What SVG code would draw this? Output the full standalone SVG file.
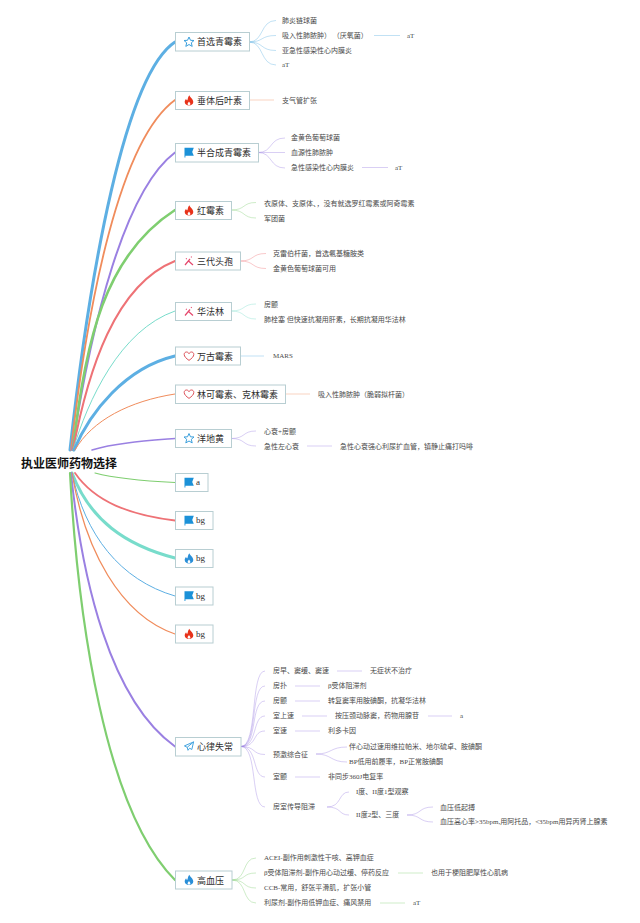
<svg xmlns="http://www.w3.org/2000/svg" width="640" height="923" viewBox="0 0 640 923">
<style>
text{font-family:"Liberation Serif","Noto Sans CJK SC",sans-serif;dominant-baseline:central}
.root{font-family:"Noto Sans CJK SC",sans-serif;font-size:12px;font-weight:700;fill:#111}
.t{font-size:9px;fill:#2e2e2e}
.s{font-size:7px;fill:#4a4a4a}
.box{fill:#fff;stroke:#b8ced2;stroke-width:1}
path.c,line.c{fill:none;stroke-linecap:round}
.l{fill:none;stroke-width:.7;opacity:.55}
.blue{stroke:#5dafe3}.orange{stroke:#f08c5c}.purple{stroke:#9a80e2}.green{stroke:#7fce70}.red{stroke:#ee7276}.teal{stroke:#78dccb}
</style>
<defs>
<polygon id="star" points="0,-5 1.5,-1.7 5,-1.5 2.3,.8 3.2,4.4 0,2.5 -3.2,4.4 -2.3,.8 -5,-1.5 -1.5,-1.7" fill="none" stroke="#3a9fdc" stroke-width="1"/>
<path id="flame" fill-rule="evenodd" d="M.4-5.2C.8-3 4.3-1.6 4.3 1.6 4.3 3.8 2.3 5 0 5-2.3 5-4.3 3.8-4.3 1.6-4.3.1-3.6-.9-2.9-1.7-2.7-.7-2.2-.2-1.6-.2-1-1.8-1.2-3.6.4-5.2ZM0 1C-.6 2-1.4 2.600-1.400 3.600-1.400 4.300-.7 4.700 0 4.700.7 4.700 1.400 4.300 1.400 3.600 1.400 2.600.6 2 0 1Z"/>
<path id="flag" d="M-4.500-4.700H4.800L3.200-.6 4.800 3.200H-3.600V5H-4.500Z" fill="#1b91d8"/>
<path id="spark" d="M-4 4 1-2M-1-.5 4 4M-3-2.600-2.300-1.900M2-4.400 2.700-3.700" fill="none" stroke="#e5486c" stroke-width="1.200"/>
<path id="heart" d="M0 4.400C-2.800 2.400-4.800.6-4.800-1.600-4.800-3.200-3.600-4-2.500-4-1.400-4-.5-3.300 0-2.400.5-3.300 1.400-4 2.500-4 3.600-4 4.800-3.200 4.800-1.600 4.800.6 2.800 2.400 0 4.400Z" fill="none" stroke="#dd5058" stroke-width="1"/>
<path id="plane" d="M4.600-4.600-4.600-.6-1.800.8-1 3.800.6 1.700 2.800 3ZM4.600-4.600-1.800.8" fill="none" stroke="#45a5e0" stroke-width="1"/>
</defs>
<rect width="640" height="923" fill="#fff"/>
<g id="connectors">
<path class="c blue" stroke-width="3" d="M70 450C90 270 125 75 175 42"/>
<path class="c orange" stroke-width="1.800" d="M71 450C88 300 120 140 175 100"/>
<path class="c purple" stroke-width="2" d="M72 450C92 320 125 190 175 152.500"/>
<path class="c green" stroke-width="2.600" d="M73 450C85 340 105 255 175 210"/>
<path class="c red" stroke-width="2" d="M73 450C88 370 115 285 175 261"/>
<path class="c teal" stroke-width="1" d="M73 450C88 400 120 330 175 311"/>
<path class="c blue" stroke-width="3" d="M74 450C90 412 125 368 175 356"/>
<path class="c orange" stroke-width="1" d="M75 450C92 420 130 401 175 394"/>
<path class="c purple" stroke-width="1.500" d="M92 450C115 443 145 441 175 438.500"/>
<path class="c green" stroke-width="1.200" d="M95 473C118 479 145 481 175 482.500"/>
<path class="c red" stroke-width="1.800" d="M75 473C95 502 130 515 175 520.500"/>
<path class="c teal" stroke-width="3" d="M72 473C90 520 125 545 175 558"/>
<path class="c blue" stroke-width="1" d="M72 473C85 535 120 580 175 596"/>
<path class="c orange" stroke-width="1.300" d="M72 473C85 550 120 615 175 634"/>
<path class="c purple" stroke-width="2" d="M71 473C82 580 110 700 175 746.500"/>
<path class="c green" stroke-width="2.200" d="M70 473C78 620 105 810 175 880"/>
<g class="blue"><path class="l" d="M249 42C264 42 260 20.500 276 20.500M249 42C264 42 260 35.500 276 35.500M249 42C264 42 260 50.500 276 50.500M249 42C264 42 260 65 276 65"/><line class="l" x1="374" y1="35.500" x2="400" y2="35.500"/></g>
<g class="orange"><line class="l" x1="250" y1="100" x2="274" y2="100"/></g>
<g class="purple"><path class="l" d="M258 152.500C273 152.500 269 138 285 138M258 152.500H285M258 152.500C273 152.500 269 168 285 168"/><line class="l" x1="362" y1="167.500" x2="388" y2="167.500"/></g>
<g class="green"><path class="l" d="M231 210C246 210 242 202.500 256 202.500M231 210C246 210 242 218 256 218"/></g>
<g class="red"><path class="l" d="M240 261C255 261 251 253.500 266 253.500M240 261C255 261 251 268.500 266 268.500"/></g>
<g class="teal"><path class="l" d="M231 311C246 311 242 304 256 304M231 311C246 311 242 319 256 319"/></g>
<g class="blue"><line class="l" x1="241" y1="356" x2="264" y2="356"/></g>
<g class="orange"><line class="l" x1="286" y1="394" x2="310" y2="394"/></g>
<g class="purple"><path class="l" d="M231 438.500C246 438.500 242 431 256 431M231 438.500C246 438.500 242 446 256 446"/><line class="l" x1="307" y1="446" x2="332" y2="446"/></g>
<g class="purple"><path class="l" d="M241 746.500C258 746.500 250 671 265 671M241 746.500C258 746.500 250 686 265 686M241 746.500C258 746.500 250 701 265 701M241 746.500C258 746.500 252 716 265 716M241 746.500C258 746.500 252 731 265 731M241 746.500C256 746.500 252 754.500 265 754.500M241 746.500C258 746.500 252 777 265 777M241 746.500C258 746.500 250 807 265 807M316 754C332 754 330 747 347 747M316 754C332 754 330 762 347 762M327 807C342 807 338 792 349 792M327 807C342 807 338 815 349 815M407 815C422 815 418 807 433 807M407 815C422 815 418 822 433 822"/><line class="l" x1="337" y1="671" x2="362" y2="671"/><line class="l" x1="295" y1="686" x2="320" y2="686"/><line class="l" x1="295" y1="701" x2="320" y2="701"/><line class="l" x1="302" y1="716" x2="327" y2="716"/><line class="l" x1="428" y1="716" x2="452" y2="716"/><line class="l" x1="295" y1="731" x2="320" y2="731"/><line class="l" x1="295" y1="777" x2="320" y2="777"/></g>
<g class="green"><path class="l" d="M232 880C247 880 242 858 256 858M232 880C247 880 242 873 256 873M232 880C247 880 242 888 256 888M232 880C247 880 242 903 256 903"/><line class="l" x1="398" y1="873" x2="423" y2="873"/><line class="l" x1="380" y1="903" x2="405" y2="903"/></g>
</g>
<g id="root"><text class="root" x="21" y="462">执业医师药物选择</text></g>
<g id="n1"><rect class="box" x="175.500" y="32.500" width="74" height="18.500"/><use href="#star" x="189" y="42"/><text class="t" x="197" y="42">首选青霉素</text></g>
<g id="n2"><rect class="box" x="175.500" y="91.500" width="74" height="18"/><use href="#flame" x="189" y="100.500" fill="#e8321a"/><text class="t" x="197" y="100.500">垂体后叶素</text></g>
<g id="n3"><rect class="box" x="175.500" y="143.500" width="83" height="18.500"/><use href="#flag" x="189" y="152.500"/><text class="t" x="197" y="153">半合成青霉素</text></g>
<g id="n4"><rect class="box" x="175.500" y="201.500" width="56" height="18"/><use href="#flame" x="189" y="210.500" fill="#e8321a"/><text class="t" x="197" y="210.500">红霉素</text></g>
<g id="n5"><rect class="box" x="175.500" y="252" width="65" height="18"/><use href="#spark" x="189" y="261"/><text class="t" x="197" y="261.500">三代头孢</text></g>
<g id="n6"><rect class="box" x="175.500" y="302.500" width="56" height="18"/><use href="#spark" x="189" y="311.500"/><text class="t" x="197" y="311.500">华法林</text></g>
<g id="n7"><rect class="box" x="175.500" y="347" width="65" height="18"/><use href="#heart" x="189" y="356"/><text class="t" x="197" y="356.500">万古霉素</text></g>
<g id="n8"><rect class="box" x="175.500" y="385" width="110" height="18.500"/><use href="#heart" x="189" y="394"/><text class="t" x="197" y="394.500">林可霉素、克林霉素</text></g>
<g id="n9"><rect class="box" x="175.500" y="429.500" width="56" height="18"/><use href="#star" x="189" y="438.500"/><text class="t" x="197" y="439">洋地黄</text></g>
<g id="n10"><rect class="box" x="175.500" y="473.500" width="32.500" height="18"/><use href="#flag" x="189" y="482.500"/><text class="t" x="196" y="482">a</text></g>
<g id="n11"><rect class="box" x="175.500" y="511.500" width="37.500" height="18"/><use href="#flag" x="189" y="520.500"/><text class="t" x="196" y="520">bg</text></g>
<g id="n12"><rect class="box" x="175.500" y="549.500" width="37.500" height="18"/><use href="#flame" x="189" y="558.500" fill="#2a8fd8"/><text class="t" x="196" y="558">bg</text></g>
<g id="n13"><rect class="box" x="175.500" y="587" width="37.500" height="18"/><use href="#flag" x="189" y="596"/><text class="t" x="196" y="595.500">bg</text></g>
<g id="n14"><rect class="box" x="175.500" y="625" width="37.500" height="18"/><use href="#flame" x="189" y="634" fill="#e8321a"/><text class="t" x="196" y="633.500">bg</text></g>
<g id="n15"><rect class="box" x="175.500" y="737.500" width="65.500" height="18.500"/><use href="#plane" x="189" y="746.500"/><text class="t" x="197" y="747">心律失常</text></g>
<g id="n16"><rect class="box" x="175.500" y="871" width="56.500" height="18"/><use href="#flame" x="189" y="880" fill="#2a8fd8"/><text class="t" x="197" y="880.500">高血压</text></g>
<g id="leaves">
<text class="s" x="282" y="20.500">肺炎链球菌</text>
<text class="s" x="282" y="35.500">吸入性肺脓肿） （厌氧菌）</text>
<text class="s" x="407" y="35.500">aT</text>
<text class="s" x="282" y="51">亚急性感染性心内膜炎</text>
<text class="s" x="282" y="65">aT</text>
<text class="s" x="282" y="101">支气管扩张</text>
<text class="s" x="291" y="138">金黄色葡萄球菌</text>
<text class="s" x="291" y="153">血源性肺脓肿</text>
<text class="s" x="291" y="168">急性感染性心内膜炎</text>
<text class="s" x="395" y="168">aT</text>
<text class="s" x="264" y="203.500">衣原体、支原体、，没有就选罗红霉素或阿奇霉素</text>
<text class="s" x="264" y="218.500">军团菌</text>
<text class="s" x="273" y="254">克雷伯杆菌，首选氨基糖胺类</text>
<text class="s" x="273" y="269">金黄色葡萄球菌可用</text>
<text class="s" x="264" y="304.500">房颤</text>
<text class="s" x="264" y="319.500">肺栓塞 但快速抗凝用肝素，长期抗凝用华法林</text>
<text class="s" x="273" y="356">MARS</text>
<text class="s" x="318" y="394.500">吸入性肺脓肿（脆弱拟杆菌）</text>
<text class="s" x="264" y="431.500">心衰+房颤</text>
<text class="s" x="264" y="446.500">急性左心衰</text>
<text class="s" x="340" y="446.500">急性心衰强心利尿扩血管，镇静止痛打吗啡</text>
<text class="s" x="273" y="671">房早、窦缓、窦速</text>
<text class="s" x="370" y="671">无症状不治疗</text>
<text class="s" x="273" y="686">房扑</text>
<text class="s" x="328" y="686">β受体阻滞剂</text>
<text class="s" x="273" y="701">房颤</text>
<text class="s" x="328" y="701">转复窦率用胺碘酮，抗凝华法林</text>
<text class="s" x="273" y="716">室上速</text>
<text class="s" x="335" y="716">按压颈动脉窦，药物用腺苷</text>
<text class="s" x="460" y="716">a</text>
<text class="s" x="273" y="731">室速</text>
<text class="s" x="328" y="731">利多卡因</text>
<text class="s" x="273" y="755">预激综合征</text>
<text class="s" x="349" y="747">伴心动过速用维拉帕米、地尔硫卓、胺碘酮</text>
<text class="s" x="349" y="762">BP低用前履率，BP正常胺碘酮</text>
<text class="s" x="273" y="777">室颤</text>
<text class="s" x="328" y="777">非同步360J电复率</text>
<text class="s" x="273" y="807">房室传导阻滞</text>
<text class="s" x="356" y="792">I度、II度1型观察</text>
<text class="s" x="356" y="815">II度2型、三度</text>
<text class="s" x="440" y="807.500">血压低起搏</text>
<text class="s" x="440" y="822">血压高心率&gt;35bpm,用阿托品，&lt;35bpm用异丙肾上腺素</text>
<text class="s" x="264" y="858">ACEI-副作用刺激性干咳、高钾血症</text>
<text class="s" x="264" y="873">β受体阻滞剂-副作用心动过缓、停药反应</text>
<text class="s" x="431" y="873">也用于梗阻肥厚性心肌病</text>
<text class="s" x="264" y="888">CCB-常用，舒张平滑肌，扩张小管</text>
<text class="s" x="264" y="903">利尿剂-副作用低钾血症、痛风禁用</text>
<text class="s" x="413" y="903">aT</text>
</g>
</svg>
